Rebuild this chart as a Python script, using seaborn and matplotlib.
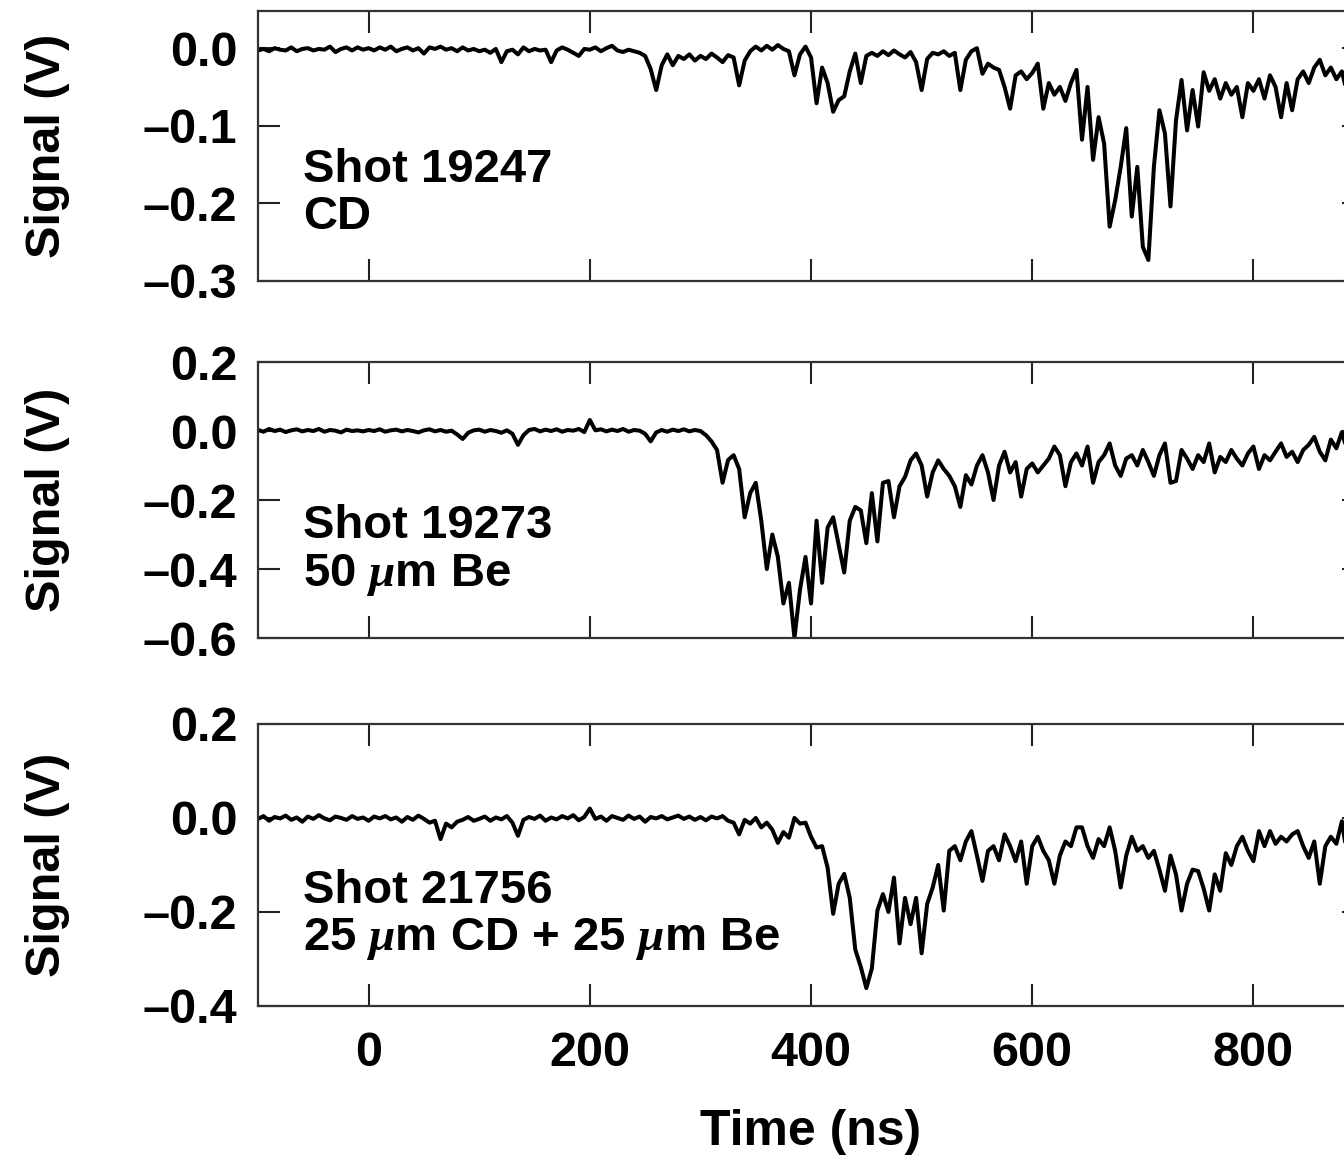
import numpy as np
import matplotlib
matplotlib.use("Agg")
import matplotlib.pyplot as plt
import seaborn as sns
from matplotlib.ticker import FixedLocator, FuncFormatter

# scope sample clock (ns), one point every 5 ns
time_ns = np.arange(-100, 905, 5)

# Shot 19247, CD
cd_signal = [
    -0.003, -0.001, -0.004, 0.000, -0.002, -0.003, 0.001, -0.004, -0.001, 0.000,
    -0.003, -0.001, -0.002, 0.002, -0.005, -0.001, 0.001, -0.003, 0.001, -0.002,
    0.000, -0.003, 0.001, -0.002, 0.002, -0.004, -0.001, 0.001, -0.003, 0.000,
    -0.007, 0.001, -0.001, 0.002, -0.002, 0.000, -0.004, 0.001, -0.003, -0.001,
    -0.004, -0.002, -0.006, -0.001, -0.018, -0.004, -0.002, -0.008, 0.001, -0.004,
    -0.001, -0.003, -0.002, -0.018, -0.003, 0.001, -0.002, -0.006, -0.010, -0.001,
    -0.002, 0.001, -0.004, 0.000, 0.003, -0.003, -0.005, -0.002, -0.004, -0.006,
    -0.010, -0.027, -0.054, -0.022, -0.008, -0.022, -0.010, -0.014, -0.008, -0.016,
    -0.010, -0.014, -0.007, -0.012, -0.018, -0.009, -0.012, -0.048, -0.016, -0.004,
    0.002, -0.003, 0.003, -0.002, 0.004, -0.001, -0.004, -0.035, -0.008, 0.002,
    -0.012, -0.071, -0.025, -0.045, -0.082, -0.067, -0.062, -0.030, -0.007, -0.045,
    -0.010, -0.006, -0.010, -0.004, -0.009, -0.003, -0.008, -0.012, -0.005, -0.018,
    -0.054, -0.014, -0.006, -0.008, -0.004, -0.010, -0.006, -0.054, -0.015, -0.004,
    0.000, -0.033, -0.020, -0.025, -0.028, -0.050, -0.078, -0.035, -0.030, -0.040,
    -0.032, -0.020, -0.078, -0.045, -0.060, -0.050, -0.068, -0.045, -0.028, -0.118,
    -0.050, -0.144, -0.089, -0.123, -0.230, -0.196, -0.153, -0.103, -0.217, -0.153,
    -0.256, -0.273, -0.153, -0.080, -0.110, -0.204, -0.093, -0.041, -0.106, -0.054,
    -0.101, -0.031, -0.055, -0.040, -0.065, -0.045, -0.060, -0.050, -0.089, -0.045,
    -0.055, -0.040, -0.065, -0.035, -0.050, -0.089, -0.045, -0.080, -0.040, -0.030,
    -0.045, -0.025, -0.015, -0.035, -0.025, -0.040, -0.030, -0.060, -0.030, -0.035,
    -0.030,
]

# Shot 19273, 50 um Be
be50_signal = [
    0.003, -0.002, 0.006, 0.000, 0.004, -0.003, 0.002, 0.005, -0.001, 0.003,
    0.000, 0.006, -0.002, 0.003, 0.001, -0.004, 0.004, 0.000, 0.002, -0.001,
    0.003, 0.000, 0.005, -0.002, 0.002, 0.004, -0.001, 0.003, 0.000, -0.004,
    0.002, 0.005, -0.001, 0.003, -0.002, 0.001, -0.010, -0.023, -0.005, 0.002,
    0.004, -0.002, 0.003, 0.000, -0.005, 0.002, -0.008, -0.040, -0.012, 0.003,
    0.006, -0.001, 0.004, 0.000, 0.005, -0.002, 0.003, 0.001, 0.006, -0.003,
    0.032, 0.002, 0.005, -0.001, 0.004, 0.000, 0.006, -0.002, 0.003, 0.001,
    -0.008, -0.030, -0.004, 0.003, -0.002, 0.004, 0.000, 0.005, -0.001, 0.003,
    0.000, -0.012, -0.030, -0.055, -0.150, -0.084, -0.070, -0.110, -0.250, -0.180,
    -0.150, -0.260, -0.400, -0.300, -0.365, -0.500, -0.440, -0.600, -0.460, -0.365,
    -0.500, -0.260, -0.440, -0.280, -0.250, -0.330, -0.410, -0.260, -0.220, -0.230,
    -0.325, -0.180, -0.320, -0.150, -0.145, -0.250, -0.160, -0.133, -0.085, -0.065,
    -0.100, -0.190, -0.120, -0.085, -0.110, -0.130, -0.160, -0.220, -0.128, -0.155,
    -0.100, -0.070, -0.120, -0.200, -0.100, -0.060, -0.120, -0.090, -0.190, -0.110,
    -0.094, -0.120, -0.100, -0.080, -0.045, -0.070, -0.160, -0.090, -0.065, -0.100,
    -0.045, -0.150, -0.090, -0.070, -0.036, -0.100, -0.130, -0.080, -0.070, -0.100,
    -0.055, -0.090, -0.130, -0.070, -0.036, -0.150, -0.145, -0.055, -0.080, -0.110,
    -0.070, -0.090, -0.036, -0.120, -0.075, -0.090, -0.055, -0.080, -0.100, -0.065,
    -0.045, -0.110, -0.070, -0.085, -0.060, -0.036, -0.075, -0.060, -0.090, -0.055,
    -0.040, -0.017, -0.060, -0.085, -0.025, -0.050, -0.003, -0.060, -0.040, -0.050,
    -0.035,
]

# Shot 21756, 25 um CD + 25 um Be
cdbe_signal = [
    -0.002, 0.004, -0.006, 0.002, -0.001, 0.005, -0.004, 0.001, -0.008, 0.003,
    -0.002, 0.006, -0.001, -0.005, 0.003, 0.000, -0.004, 0.004, -0.002, 0.001,
    -0.006, 0.003, -0.001, 0.004, -0.003, 0.001, -0.008, 0.002, -0.004, 0.005,
    -0.002, -0.010, -0.006, -0.045, -0.012, -0.020, -0.008, -0.004, 0.002, -0.006,
    -0.002, 0.003, -0.006, 0.001, -0.003, 0.004, -0.010, -0.038, -0.004, 0.002,
    -0.002, 0.005, -0.006, 0.001, -0.003, 0.004, -0.001, 0.006, -0.005, 0.002,
    0.020, -0.002, 0.003, -0.006, 0.004, 0.000, -0.004, 0.005, -0.002, 0.003,
    -0.008, 0.002, -0.001, 0.004, -0.003, 0.001, 0.005, -0.002, 0.003, -0.004,
    0.002, -0.005, 0.003, -0.001, 0.004, -0.006, -0.010, -0.035, -0.004, -0.012,
    0.000, -0.020, -0.010, -0.025, -0.053, -0.030, -0.042, 0.000, -0.012, -0.010,
    -0.040, -0.063, -0.060, -0.106, -0.204, -0.140, -0.119, -0.170, -0.280, -0.317,
    -0.362, -0.320, -0.197, -0.162, -0.200, -0.127, -0.267, -0.170, -0.226, -0.170,
    -0.288, -0.183, -0.148, -0.100, -0.197, -0.070, -0.060, -0.090, -0.050, -0.028,
    -0.080, -0.134, -0.070, -0.060, -0.090, -0.035, -0.060, -0.092, -0.050, -0.140,
    -0.060, -0.040, -0.070, -0.090, -0.140, -0.080, -0.050, -0.060, -0.020, -0.020,
    -0.060, -0.085, -0.045, -0.060, -0.020, -0.070, -0.148, -0.080, -0.040, -0.070,
    -0.060, -0.085, -0.070, -0.110, -0.155, -0.080, -0.120, -0.197, -0.140, -0.110,
    -0.113, -0.150, -0.197, -0.120, -0.155, -0.075, -0.100, -0.060, -0.040, -0.070,
    -0.092, -0.028, -0.060, -0.028, -0.055, -0.040, -0.050, -0.035, -0.028, -0.060,
    -0.085, -0.050, -0.140, -0.060, -0.040, -0.055, -0.007, -0.085, -0.050, -0.060,
    -0.045,
]

signals = [cd_signal, be50_signal, cdbe_signal]
shot_labels = [
    "Shot 19247\nCD",
    "Shot 19273\n50 $\\mu$m Be",
    "Shot 21756\n25 $\\mu$m CD + 25 $\\mu$m Be",
]
y_limits = [(-0.3, 0.048), (-0.6, 0.2), (-0.4, 0.2)]
y_ticks = [[-0.3, -0.2, -0.1, 0.0], [-0.6, -0.4, -0.2, 0.0, 0.2], [-0.4, -0.2, 0.0, 0.2]]
x_ticks = [0, 200, 400, 600, 800]

sns.set_theme(style="ticks")
plt.rcParams["font.family"] = ["Liberation Sans", "DejaVu Sans"]
plt.rcParams["font.weight"] = "bold"
plt.rcParams["text.color"] = "black"
plt.rcParams["axes.labelcolor"] = "black"
plt.rcParams["xtick.color"] = "black"
plt.rcParams["ytick.color"] = "black"
plt.rcParams["mathtext.fontset"] = "custom"
plt.rcParams["mathtext.it"] = "Liberation Serif:italic:bold"
plt.rcParams["mathtext.rm"] = "Liberation Sans:bold"

fig = plt.figure(figsize=(13.44, 11.6), dpi=100)

# axes boxes (left, bottom, width, height); right spine sits just past the edge
boxes = [
    (0.192, 0.7578, 0.8229, 0.2328),
    (0.192, 0.4500, 0.8229, 0.2379),
    (0.192, 0.1328, 0.8229, 0.2431),
]
text_tops = [0.493, 0.485, 0.487]

dash_fmt = FuncFormatter(lambda v, p: f"{v:.1f}".replace("-", "\u2013"))

for i, (box, sig) in enumerate(zip(boxes, signals)):
    ax = fig.add_axes(box)
    sns.lineplot(x=time_ns, y=sig, ax=ax, color="black", linewidth=2.9)
    ax.set_xlim(-100, 900)
    ax.set_ylim(*y_limits[i])
    ax.xaxis.set_major_locator(FixedLocator(x_ticks))
    ax.yaxis.set_major_locator(FixedLocator(y_ticks[i]))
    ax.yaxis.set_major_formatter(dash_fmt)
    ax.tick_params(direction="in", length=16, width=1.5, top=True, right=True,
                   labelsize=35, color="#222222", labelcolor="black")
    ax.tick_params(axis="y", pad=15)
    ax.tick_params(axis="x", pad=18, labelbottom=(i == 2))
    for s in ax.spines.values():
        s.set_linewidth(1.6)
        s.set_color("#333333")
    ax.set_xlabel("")
    ax.set_ylabel("")
    ax.text(-0.19, 0.5, "Signal (V)", transform=ax.transAxes, rotation=90,
            ha="center", va="center", fontsize=35, fontweight="bold", color="black")
    ax.text(0.0407, text_tops[i], shot_labels[i], transform=ax.transAxes,
            ha="left", va="top", fontsize=34, fontweight="bold", linespacing=1.1,
            color="black")
    if i == 2:
        ax.set_xlabel("Time (ns)", fontsize=36, fontweight="bold", labelpad=24,
                      color="black")

fig.savefig("out.png", dpi=100)
